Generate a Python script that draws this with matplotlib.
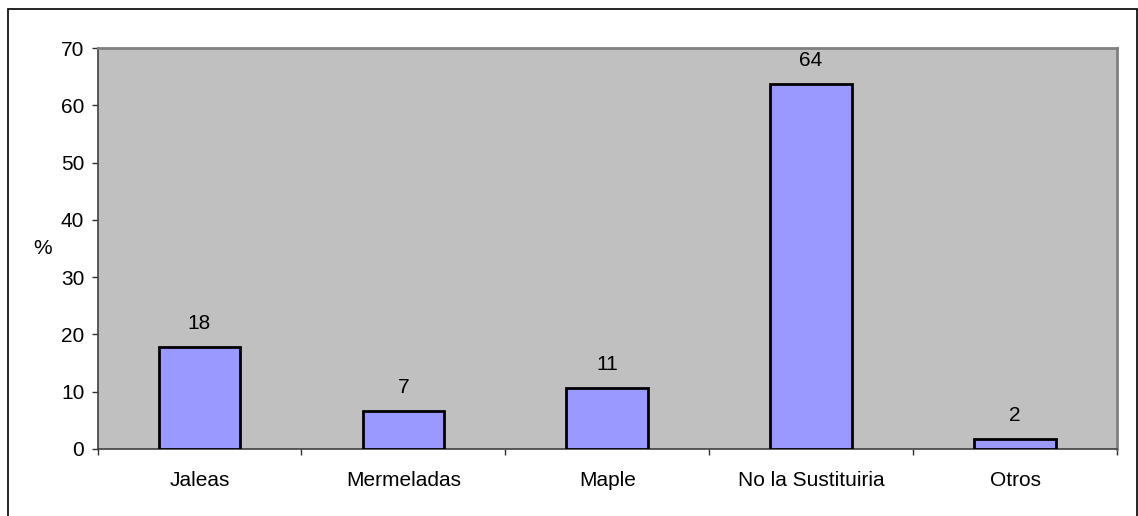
import numpy as np
import matplotlib.pyplot as plt
from matplotlib.patches import Rectangle

plt.rcParams['font.family'] = ['Liberation Sans', 'DejaVu Sans']

categorias = ['Jaleas', 'Mermeladas', 'Maple', 'No la Sustituiria', 'Otros']
porcentajes = [17.8, 6.6, 10.6, 63.8, 1.7]

fig = plt.figure(figsize=(11.38, 5.16), dpi=100)
ax = fig.add_axes([0.0857, 0.1304, 0.8958, 0.776])

# marco exterior del grafico
fig.patches.append(Rectangle((0.007, -0.05), 0.992, 1.033, transform=fig.transFigure,
                             fill=False, edgecolor='black', linewidth=1.2))

x = np.arange(len(categorias))
barras = ax.bar(x, porcentajes, width=0.4, color='#9999FF', edgecolor='black',
                linewidth=2.0, zorder=3)

for xi, v in zip(x, porcentajes):
    ax.annotate(f'{v:.0f}', (xi, v), xytext=(0, 17), textcoords='offset points',
                ha='center', va='center', fontsize=15)

ax.set_facecolor('#C0C0C0')
ax.set_xlim(-0.5, len(categorias) - 0.5)
ax.set_ylim(0, 70)
ax.set_yticks(range(0, 71, 10))

ax.set_xticks(x)
ax.set_xticklabels(categorias, fontsize=15)
ax.set_xticks(np.arange(-0.5, len(categorias), 1), minor=True)
ax.tick_params(axis='x', which='major', length=0, pad=16)
ax.tick_params(axis='x', which='minor', length=4, width=1, color='#303030', direction='out')
ax.tick_params(axis='y', length=4.5, width=1, color='#303030', pad=5, labelsize=15)

ax.set_ylabel('%', rotation=0, fontsize=15, ha='center', va='center')
ax.yaxis.set_label_coords(-0.054, 0.5)

for lado in ['top', 'right']:
    ax.spines[lado].set_color('#808080')
    ax.spines[lado].set_linewidth(2)
for lado in ['left', 'bottom']:
    ax.spines[lado].set_color('#404040')
    ax.spines[lado].set_linewidth(1.2)

plt.savefig('out.png', dpi=100)
